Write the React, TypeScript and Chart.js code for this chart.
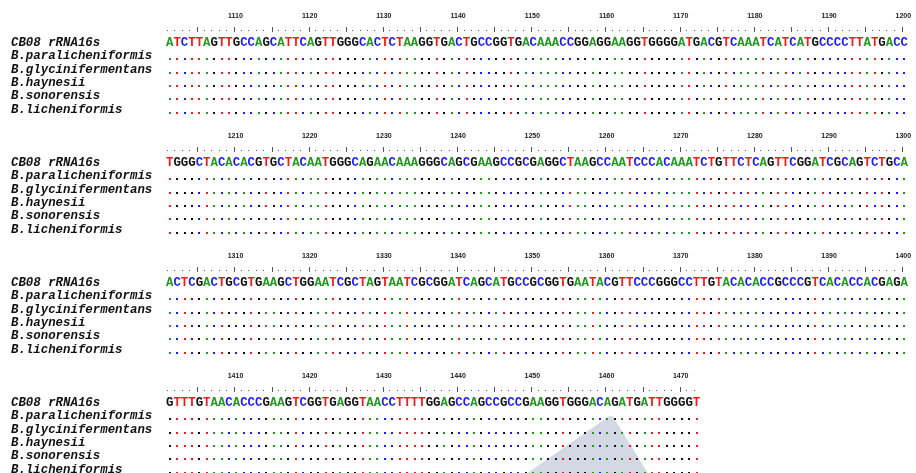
import React, { useEffect, useRef } from "react";
import { Chart, registerables } from "chart.js";

Chart.register(...registerables);

// ---------------- data ----------------
const referenceName = "CB08 rRNA16s";
const speciesNames = [
  "B.paralicheniformis",
  "B.glycinifermentans",
  "B.haynesii",
  "B.sonorensis",
  "B.licheniformis",
];
const blockStarts = [1101, 1201, 1301, 1401];
const cb08Blocks = [
  "ATCTTAGTTGCCAGCATTCAGTTGGGCACTCTAAGGTGACTGCCGGTGACAAACCGGAGGAAGGTGGGGATGACGTCAAATCATCATGCCCCTTATGACC",
  "TGGGCTACACACGTGCTACAATGGGCAGAACAAAGGGCAGCGAAGCCGCGAGGCTAAGCCAATCCCACAAATCTGTTCTCAGTTCGGATCGCAGTCTGCA",
  "ACTCGACTGCGTGAAGCTGGAATCGCTAGTAATCGCGGATCAGCATGCCGCGGTGAATACGTTCCCGGGCCTTGTACACACCGCCCGTCACACCACGAGA",
  "GTTTGTAACACCCGAAGTCGGTGAGGTAACCTTTTGGAGCCAGCCGCCGAAGGTGGGACAGATGATTGGGGT",
];
// every compared species is identical to the reference in this region (shown as dots)
const paralicheniformisBlocks = [...cb08Blocks];
const glycinifermentansBlocks = [...cb08Blocks];
const haynesiiBlocks = [...cb08Blocks];
const sonorensisBlocks = [...cb08Blocks];
const licheniformisBlocks = [...cb08Blocks];
const speciesBlocks = [
  paralicheniformisBlocks,
  glycinifermentansBlocks,
  haynesiiBlocks,
  sonorensisBlocks,
  licheniformisBlocks,
];
// light overlay shape visible in the picture (column units, line units)
const overlayX = [48.6, 59.7, 60.2, 65.0];
const overlayY = [34.3, 30.0, 30.0, 34.3];

// ---------------- styling ----------------
const baseColors: Record<string, string> = {
  A: "#1f9a1f",
  T: "#ee1d1d",
  C: "#1d1def",
  G: "#111111",
};
const W = 916;
const H = 473;
const CELL = 7.42;
const ROW = 13.333;
const X0 = 166;
const Y0 = 16.33;
const LINES_PER_BLOCK = 9;
const LABEL_COL = (11 - X0) / CELL;
const SEQ_FONT = 'bold 12.4px "Liberation Mono", "Courier New", monospace';
const LABEL_FONT = 'italic bold 12.4px "Liberation Mono", "Courier New", monospace';
const NUM_FONT = 'bold 7px "Liberation Sans", Arial, sans-serif';

type Pt = { x: number; y: number; t: string; r?: string };

function buildDatasets() {
  const labels: Pt[] = [];
  const seq: Pt[] = [];
  const dots: Pt[] = [];
  const ruler: Pt[] = [];
  const nums: Pt[] = [];
  blockStarts.forEach((start, b) => {
    const base = b * LINES_PER_BLOCK;
    const ref = cb08Blocks[b];
    labels.push({ x: LABEL_COL, y: base + 2, t: referenceName });
    speciesNames.forEach((n, s) => labels.push({ x: LABEL_COL, y: base + 3 + s, t: n }));
    for (let i = 0; i < ref.length; i++) {
      const p = start + i;
      seq.push({ x: i + 0.5, y: base + 2, t: ref[i] });
      ruler.push({ x: i + 0.5, y: base + 1, t: p % 5 === 0 ? "|" : "." });
      if (p % 10 === 0) nums.push({ x: i + 0.5, y: base, t: String(p) });
      speciesBlocks.forEach((sb, s) => {
        dots.push({ x: i + 0.5, y: base + 3 + s, t: sb[b][i], r: ref[i] });
      });
    }
  });
  return { labels, seq, dots, ruler, nums };
}

const textPlugin = {
  id: "alignmentText",
  afterDatasetsDraw(chart: any) {
    const ctx = chart.ctx as CanvasRenderingContext2D;
    chart.data.datasets.forEach((ds: any, di: number) => {
      if (!ds.kind) return;
      const meta = chart.getDatasetMeta(di);
      ctx.save();
      meta.data.forEach((el: any, j: number) => {
        const d: Pt = ds.data[j];
        const x = el.x;
        const y = el.y;
        if (ds.kind === "label") {
          ctx.font = LABEL_FONT;
          ctx.textAlign = "left";
          ctx.textBaseline = "middle";
          ctx.fillStyle = "#111111";
          ctx.fillText(d.t, x, y);
        } else if (ds.kind === "seq") {
          ctx.font = SEQ_FONT;
          ctx.textAlign = "center";
          ctx.textBaseline = "middle";
          ctx.fillStyle = baseColors[d.t] || "#111";
          ctx.fillText(d.t, x, y);
        } else if (ds.kind === "dot") {
          if (d.t === d.r) {
            ctx.fillStyle = baseColors[d.r!] || "#111";
            ctx.fillRect(Math.round(x) - 1, Math.round(y) + 2, 2, 2);
          } else {
            ctx.font = SEQ_FONT;
            ctx.textAlign = "center";
            ctx.textBaseline = "middle";
            ctx.fillStyle = baseColors[d.t] || "#111";
            ctx.fillText(d.t, x, y);
          }
        } else if (ds.kind === "ruler") {
          ctx.fillStyle = "#555555";
          if (d.t === "|") ctx.fillRect(Math.round(x) - 2, Math.round(y) - 3, 1, 5);
          else ctx.fillRect(Math.round(x) - 3, Math.round(y), 1, 1);
        } else if (ds.kind === "num") {
          ctx.font = NUM_FONT;
          ctx.textAlign = "center";
          ctx.textBaseline = "middle";
          ctx.fillStyle = "#222222";
          ctx.fillText(d.t, x - 1, y);
        }
      });
      ctx.restore();
    });
  },
};

export default function App() {
  const ref = useRef<HTMLCanvasElement | null>(null);
  useEffect(() => {
    if (!ref.current) return;
    const { labels, seq, dots, ruler, nums } = buildDatasets();
    const textDs = (kind: string, data: Pt[]) => ({
      kind,
      data,
      pointRadius: 0,
      pointHoverRadius: 0,
      showLine: false,
    });
    const chart = new Chart(ref.current, {
      type: "scatter",
      data: {
        datasets: [
          textDs("label", labels),
          textDs("seq", seq),
          textDs("dot", dots),
          textDs("ruler", ruler),
          textDs("num", nums),
          {
            data: overlayX.map((x, i) => ({ x, y: overlayY[i] })),
            showLine: true,
            fill: "start",
            backgroundColor: "rgba(212,216,228,1)",
            borderWidth: 0,
            borderColor: "rgba(0,0,0,0)",
            pointRadius: 0,
            tension: 0,
          } as any,
        ] as any,
      },
      options: {
        animation: false,
        responsive: false,
        events: [],
        layout: { padding: 0 },
        plugins: { legend: { display: false }, tooltip: { enabled: false } },
        scales: {
          x: {
            type: "linear",
            display: false,
            min: -X0 / CELL,
            max: (W - X0) / CELL,
          },
          y: {
            type: "linear",
            display: false,
            reverse: true,
            min: -Y0 / ROW,
            max: (H - Y0) / ROW,
          },
        },
      },
      plugins: [textPlugin],
    });
    return () => chart.destroy();
  }, []);
  return (
    <div style={{ position: "absolute", left: 0, top: 0, width: W, height: H, background: "#fff" }}>
      <canvas ref={ref} width={W} height={H} style={{ display: "block" }} />
    </div>
  );
}
